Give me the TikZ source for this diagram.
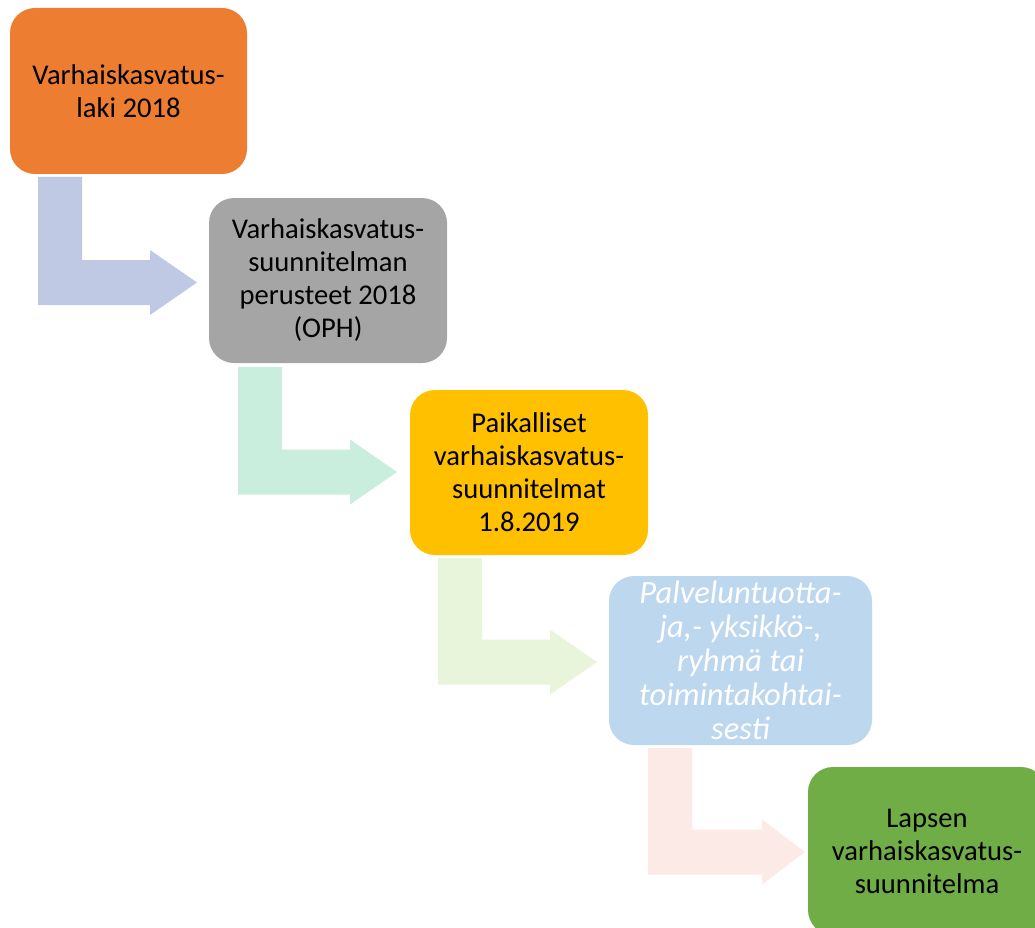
\documentclass[tikz,border=0pt]{standalone}
\usepackage{fontspec}
\setmainfont{Carlito}
\definecolor{cOrange}{HTML}{ED7D31}
\definecolor{cGray}{HTML}{A5A5A5}
\definecolor{cGold}{HTML}{FFC000}
\definecolor{cBlue}{HTML}{BDD7EE}
\definecolor{cGreen}{HTML}{70AD47}
\definecolor{aOne}{HTML}{BFC9E4}
\definecolor{aTwo}{HTML}{CAEEDE}
\definecolor{aThree}{HTML}{E8F5DA}
\definecolor{aFour}{HTML}{FBEAE6}
\tikzset{
  stagebox/.style={rounded corners=25pt, align=center, inner sep=0pt,
    font=\fontsize{28.6}{33}\selectfont, text=black},
}
% #1 colour, #2 stem left x, #3 stem top y, #4 tip y, #5 head start x, #6 tip x
\newcommand\bentarr[6]{%
  \fill[#1] (#2,#3) -- (#2+44,#3) -- (#2+44,#4-22.5) -- (#5,#4-22.5) -- (#5,#4-32.5)
    -- (#6,#4) -- (#5,#4+32.5) -- (#5,#4+22.5) -- (#2,#4+22.5) -- cycle;}
\begin{document}
\begin{tikzpicture}[x=1pt,y=-1pt]
\useasboundingbox (0,0) rectangle (1035,928);
\clip (0,0) rectangle (1035,928);
% arrows
\bentarr{aOne}{38}{177}{282.5}{150}{197}
\bentarr{aTwo}{238}{367}{472}{350}{397}
\bentarr{aThree}{438}{558}{662}{550}{597}
\bentarr{aFour}{648}{748}{852}{762}{805}
% boxes
\node[stagebox, fill=cOrange, minimum width=237pt, minimum height=166pt] (b1) at (128.5,91)
  {Varhaiskasvatus-\\laki 2018};
\node[stagebox, fill=cGray, minimum width=238pt, minimum height=165pt] (b2) at (328,280.5)
  {Varhaiskasvatus-\\suunnitelman\\perusteet 2018\\(OPH)};
\node[stagebox, fill=cGold, minimum width=238pt, minimum height=165pt] (b3) at (529,472.5)
  {Paikalliset\\varhaiskasvatus-\\suunnitelmat\\1.8.2019};
\node[stagebox, fill=cBlue, minimum width=263pt, minimum height=169pt, text=white,
  font=\fontsize{32.5}{34}\selectfont\itshape] (b4) at (740.5,660.5)
  {Palveluntuotta-\\ja,- yksikkö-,\\ryhmä tai\\toimintakohtai-\\sesti};
\node[stagebox, fill=cGreen, minimum width=238pt, minimum height=168pt] (b5) at (927,851)
  {Lapsen\\varhaiskasvatus-\\suunnitelma};
\end{tikzpicture}
\end{document}
